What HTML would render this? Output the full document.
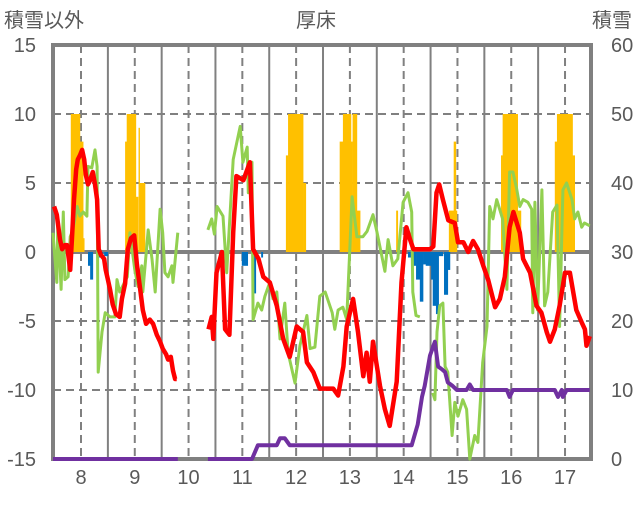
<!DOCTYPE html>
<html><head><meta charset="utf-8">
<style>
body{margin:0;background:#fff;}
svg text{font-family:"Liberation Sans","Noto Sans CJK JP",sans-serif;fill:#595959;}
</style></head>
<body>
<svg id="chart" width="636" height="501" viewBox="0 0 636 501" xmlns="http://www.w3.org/2000/svg">
<text x="4" y="27" font-size="20">積雪以外</text>
<text x="316" y="27" font-size="20" text-anchor="middle">厚床</text>
<text x="632" y="27" font-size="20" text-anchor="end">積雪</text>
<g id="grid"></g>
<g id="bars"></g>
<g id="frame"></g>
<g id="lines"></g>
<g id="axes"></g>
</svg>
<script>
const xTicks=[8,9,10,11,12,13,14,15,16,17];
const yLeftTicks=[15,10,5,0,-5,-10,-15];
const yRightTicks=[60,50,40,30,20,10,0];
const orangeBars=[[7.81,7.98,10],[7.98,8.04,8],[8.04,8.06,1],[8.82,8.85,8],[8.85,9.02,10],[9.02,9.06,4],[9.07,9.09,9],[9.09,9.19,5],[11.81,11.85,7],[11.85,12.13,10],[12.13,12.18,5],[12.81,12.87,8],[12.87,13.02,10],[13.02,13.05,8],[13.05,13.13,10],[13.13,13.19,3],[13.86,13.89,3],[14.84,14.93,3],[14.93,14.97,8],[14.97,14.99,3],[15.81,15.84,7],[15.84,16.12,10],[16.12,16.18,3],[16.81,16.85,8],[16.85,17.14,10],[17.14,17.18,7]];
const blueBars=[[8.13,8.17,-1],[8.17,8.22,-2],[8.33,8.41,-0.4],[8.43,8.50,-0.3],[10.99,11.10,-1],[11.20,11.25,-3],[11.35,11.38,-0.4],[14.08,14.17,-0.4],[14.17,14.23,-1],[14.23,14.30,-2],[14.30,14.36,-3.6],[14.36,14.41,-0.9],[14.41,14.51,-1],[14.51,14.54,-2],[14.54,14.60,-3.9],[14.60,14.65,-4.5],[14.65,14.73,-0.3],[14.75,14.82,-3.1],[14.82,14.86,-1.3]];
const redDays1=[7.50,7.55,7.61,7.65,7.70,7.74,7.80,7.83,7.87,7.91,7.94,7.98,8.02,8.06,8.09,8.13,8.17,8.22,8.26,8.30,8.33,8.37,8.43,8.46,8.50,8.54,8.59,8.65,8.72,8.76,8.82,8.87,8.93,8.99,9.04,9.10,9.15,9.21,9.28,9.34,9.41,9.47,9.52,9.58,9.62,9.67,9.71,9.75,9.78];
const redVals1=[3.3,2.7,0.9,0.2,0.5,0.5,-1.3,0.9,3.8,6.0,6.7,7.0,7.4,6.7,5.6,4.9,5.2,5.8,4.9,3.8,0.2,-0.2,-0.5,-1.3,-2.0,-2.7,-3.8,-4.5,-4.7,-3.4,-2.3,0.2,1.0,1.2,-0.9,-2.7,-4.2,-5.2,-4.9,-5.2,-6.0,-6.5,-7.0,-7.4,-7.8,-7.6,-8.6,-9.2,-9.2];
const redDays2=[10.37,10.43,10.46,10.52,10.62,10.68,10.76,10.83,10.89,11.02,11.14,11.20,11.30,11.39,11.51,11.64,11.76,11.88,12.01,12.13,12.20,12.32,12.44,12.69,12.78,12.88,12.94,13.06,13.15,13.25,13.31,13.37,13.43,13.56,13.65,13.74,13.87,13.96,14.05,14.12,14.18,14.49,14.55,14.61,14.66,14.73,14.83,14.95,15.01,15.11,15.20,15.29,15.38,15.48,15.57,15.70,15.79,15.88,15.97,16.04,16.16,16.22,16.35,16.47,16.56,16.66,16.72,16.81,16.90,17.00,17.09,17.21,17.31,17.37,17.40,17.46];
const redVals2=[-5.6,-4.7,-6.3,-1.5,0.0,-5.6,-6.0,1.4,5.5,5.2,6.5,0.2,-0.5,-1.8,-2.2,-3.9,-6.3,-7.6,-5.4,-5.8,-8.0,-8.7,-9.9,-9.9,-10.4,-8.3,-5.4,-3.4,-5.8,-9.0,-7.3,-9.4,-6.5,-9.7,-11.4,-12.6,-9.4,-2.2,1.8,0.9,0.2,0.2,0.4,4.3,4.9,3.8,2.3,2.1,0.7,0.7,0.0,0.8,0.2,-1.0,-2.0,-4.0,-3.4,-1.8,1.8,2.9,1.4,-0.5,-1.5,-3.9,-4.4,-5.8,-6.5,-5.6,-3.9,-1.5,-1.5,-4.2,-5.1,-5.6,-6.8,-6.1];
const greenDays1=[7.48,7.55,7.57,7.63,7.67,7.70,7.76,7.80,7.85,7.93,7.98,8.04,8.11,8.13,8.20,8.26,8.30,8.32,8.39,8.45,8.54,8.63,8.67,8.72,8.86,8.91,9.00,9.06,9.13,9.15,9.25,9.32,9.38,9.47,9.52,9.56,9.62,9.69,9.71,9.80];
const greenVals1=[1.4,-2.2,2.4,-2.7,2.9,-2.0,-1.8,1.1,1.6,3.3,2.6,2.9,2.6,6.2,6.1,7.4,6.2,-8.7,-5.8,-4.4,-4.7,-4.7,-2.0,-2.9,-1.8,1.4,-1.3,-2.5,-1.0,-2.9,1.6,-0.5,-2.9,3.1,1.4,-1.5,-1.8,-1.0,-2.2,1.4];
const greenDays2=[10.36,10.43,10.48,10.53,10.64,10.71,10.83,10.96,11.01,11.09,11.11,11.18,11.20,11.29,11.36,11.42,11.51,11.57,11.64,11.70,11.79,11.85,11.98,12.07,12.20,12.26,12.35,12.44,12.54,12.67,12.72,12.78,12.87,12.94,13.04,13.13,13.24,13.32,13.43,13.50,13.65,13.71,13.80,13.89,13.99,14.08,14.15,14.17,14.23,14.30];
const greenVals2=[1.6,2.4,1.3,3.3,2.6,-1.5,6.7,9.1,6.5,7.6,4.3,6.5,-4.9,-3.7,-4.2,-3.2,-2.2,-3.4,-2.9,-6.3,-3.7,-7.3,-9.5,-6.8,-4.6,-7.0,-6.9,-3.2,-2.9,-4.4,-5.6,-4.2,-4.0,-4.9,4.0,1.1,1.1,1.5,2.7,1.5,-1.4,0.9,-1.0,-0.5,3.6,4.3,2.9,-2.9,-4.6,-4.7];
const greenDays3=[14.54,14.58,14.62,14.67,14.73,14.77,14.82,14.90,14.95,15.01,15.10,15.17,15.23,15.32,15.38,15.47,15.55,15.60,15.66,15.73,15.84,15.92,15.97,16.03,16.10,16.16,16.22,16.31,16.38,16.40,16.44,16.49,16.57,16.62,16.68,16.77,16.85,16.90,16.96,17.03,17.13,17.18,17.24,17.31,17.36,17.46];
const greenVals3=[-10.2,-10.7,-5.8,-3.9,-3.7,-8.3,-8.7,-13.3,-10.9,-11.9,-10.7,-11.4,-15.0,-13.3,-13.8,-8.0,-5.4,3.3,2.4,3.8,2.4,-2.7,5.8,5.8,4.6,3.3,3.8,3.6,3.1,-4.4,3.6,-4.2,4.5,-3.9,-2.9,2.9,3.4,-5.4,4.5,5.0,3.8,2.4,2.9,1.8,2.1,1.9];
const purpleDays1=[7.48,9.80];
const purpleVals1=[0,0];
const purpleDays2=[10.36,11.18,11.29,11.64,11.70,11.79,11.88,13.93,14.15,14.26,14.34,14.39,14.49,14.58,14.64,14.71,14.77,14.82,14.91,14.99,15.17,15.23,15.29,15.92,15.97,16.03,16.81,16.87,16.94,16.96,17.03,17.46];
const purpleVals2=[0,0,2,2,3,3,2,2,2,5,9,10.6,15,17,13.4,13,12.6,11.1,10.6,10,10,10.8,10,10,9,10,10,9,10,9,10,10];

const L=53,R=591,T=45,B=459;
const X=d=>81+(d-8)*53.78;
const YL=v=>B-(v+15)/30*(B-T);
const YR=v=>B-v/60*(B-T);
const NS="http://www.w3.org/2000/svg";
function mk(tag,parent,attrs){const e=document.createElementNS(NS,tag);for(const k in attrs)e.setAttribute(k,attrs[k]);parent.appendChild(e);return e;}
const grid=document.getElementById('grid'),bars=document.getElementById('bars'),lines=document.getElementById('lines'),axes=document.getElementById('axes'),frameG=document.getElementById('frame');
yLeftTicks.forEach(v=>{
  if(v===15||v===-15)return;
  const g=mk('line',grid,{x1:L,x2:R,y1:YL(v),y2:YL(v),stroke:'#808080','stroke-width':v===0?4:2,'stroke-dasharray':v===0?'none':'8,5'});
  
  
});
xTicks.forEach(d=>{
  const g=mk('line',grid,{x1:X(d),x2:X(d),y1:T,y2:B,stroke:'#808080','stroke-width':2,'stroke-dasharray':'8,5'});
  
  
  if(d<17){
    const s=mk('line',grid,{x1:X(d+0.5),x2:X(d+0.5),y1:T,y2:B,stroke:'#808080','stroke-width':2});
    
    
  }
});
orangeBars.forEach(b=>{
  const r=mk('rect',bars,{x:X(b[0]),width:X(b[1])-X(b[0])+0.3,y:YL(b[2]),height:YL(0)-YL(b[2]),fill:'#FFC000'});
  
  
});
blueBars.forEach(b=>{
  const r=mk('rect',bars,{x:X(b[0]),width:X(b[1])-X(b[0])+0.3,y:YL(0),height:YL(b[2])-YL(0),fill:'#0070C0'});
  
  
});
const frame=mk('rect',frameG,{x:L,y:T,width:R-L,height:B-T,fill:'none',stroke:'#808080','stroke-width':4});


function line(days,vals,yf,color,w,name){
  const p=mk('polyline',lines,{points:days.map((d,i)=>X(d).toFixed(1)+','+yf(vals[i]).toFixed(1)).join(' '),fill:'none',stroke:color,'stroke-width':w,'stroke-linejoin':'round'});
  
  
}
line(greenDays1,greenVals1,YL,'#92D050',3,'green-series');
line(greenDays2,greenVals2,YL,'#92D050',3,'green-series');
line(greenDays3,greenVals3,YL,'#92D050',3,'green-series');
line(redDays1,redVals1,YL,'#FF0000',4.5,'red-series');
line(redDays2,redVals2,YL,'#FF0000',4.5,'red-series');
line(purpleDays1,purpleVals1,YR,'#7030A0',4,'snow-depth-series');
line(purpleDays2,purpleVals2,YR,'#7030A0',4,'snow-depth-series');
yLeftTicks.forEach(v=>{
  const t=mk('text',axes,{x:36,y:YL(v)+7,'font-size':20,'text-anchor':'end'});t.textContent=v;
  
  
});
yRightTicks.forEach(v=>{
  const t=mk('text',axes,{x:611,y:YR(v)+7,'font-size':20});t.textContent=v;
  
  
});
xTicks.forEach(d=>{
  const t=mk('text',axes,{x:X(d),y:484,'font-size':20,'text-anchor':'middle'});t.textContent=d;
  
  
});
</script>
</body></html>
